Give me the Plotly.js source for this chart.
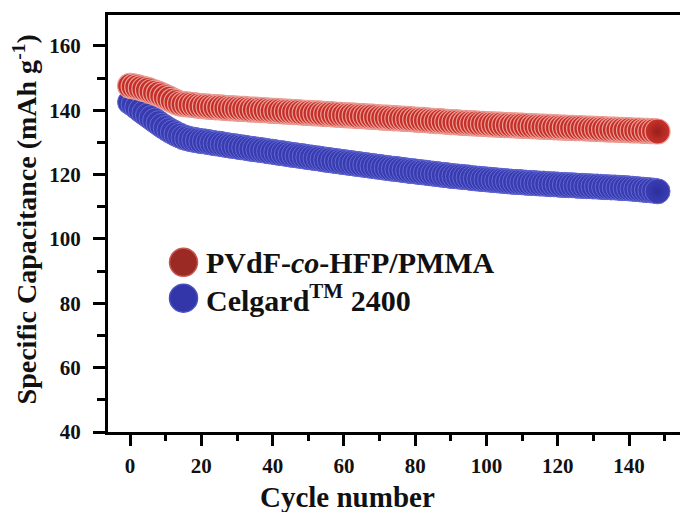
<!DOCTYPE html>
<html>
<head>
<meta charset="utf-8">
<script src="https://cdn.plot.ly/plotly-3.0.1.min.js"></script>
<style>html,body{margin:0;padding:0;background:#fff;}#chart{width:680px;height:512px;}</style>
</head>
<body>
<div id="chart"></div>
<script>
// Series names
const seriesNames = ["PVdF-<i>co</i>-HFP/PMMA", "Celgard<sup>TM</sup> 2400"];

// Specific capacitance (mAh g-1), one value per cycle starting at cycle 0
const pvdfValues = [
  147.6,147.4,147.2,146.9,146.6,146.3,145.9,145.5,145.1,144.6,144.1,143.6,143.0,142.5,142.1,
  141.9,141.8,141.7,141.6,141.4,141.3,141.2,141.1,141.0,140.9,140.9,140.8,140.7,140.6,140.6,
  140.5,140.4,140.4,140.3,140.2,140.2,140.1,140.0,140.0,139.9,139.8,139.8,139.7,139.6,139.6,
  139.5,139.4,139.4,139.3,139.2,139.2,139.1,139.0,139.0,138.9,138.8,138.8,138.7,138.6,138.6,
  138.5,138.4,138.4,138.3,138.2,138.2,138.1,138.0,138.0,137.9,137.8,137.7,137.7,137.6,137.5,
  137.5,137.4,137.3,137.3,137.2,137.1,137.0,137.0,136.9,136.8,136.7,136.6,136.6,136.5,136.4,
  136.3,136.3,136.2,136.1,136.1,136.0,135.9,135.9,135.8,135.8,135.7,135.6,135.6,135.5,135.5,
  135.4,135.4,135.3,135.3,135.2,135.2,135.1,135.1,135.0,135.0,134.9,134.9,134.8,134.8,134.7,
  134.7,134.6,134.6,134.5,134.5,134.4,134.4,134.4,134.3,134.3,134.2,134.2,134.1,134.1,134.0,
  134.0,134.0,133.9,133.9,133.8,133.8,133.7,133.7,133.7,133.6,133.6,133.5,133.5,133.4
];
const celgardValues = [
  142.5,141.8,140.9,140.0,139.2,138.4,137.6,136.8,136.0,135.2,134.5,133.8,133.2,132.6,132.1,
  131.6,131.3,131.0,130.8,130.6,130.4,130.3,130.1,129.9,129.7,129.6,129.4,129.2,129.0,128.9,
  128.7,128.5,128.4,128.2,128.0,127.9,127.7,127.6,127.4,127.2,127.1,126.9,126.7,126.6,126.4,
  126.2,126.1,125.9,125.8,125.6,125.4,125.3,125.1,125.0,124.8,124.6,124.5,124.3,124.2,124.0,
  123.9,123.7,123.6,123.4,123.3,123.1,123.0,122.8,122.7,122.5,122.4,122.2,122.1,121.9,121.8,
  121.7,121.5,121.4,121.2,121.1,121.0,120.8,120.7,120.6,120.4,120.3,120.2,120.0,119.9,119.8,
  119.6,119.5,119.4,119.3,119.2,119.1,118.9,118.8,118.7,118.6,118.5,118.4,118.3,118.2,118.1,
  118.0,117.9,117.8,117.7,117.7,117.6,117.5,117.4,117.4,117.3,117.2,117.2,117.1,117.0,117.0,
  116.9,116.8,116.8,116.7,116.7,116.6,116.5,116.5,116.4,116.4,116.3,116.3,116.2,116.1,116.1,
  116.0,116.0,115.9,115.8,115.8,115.7,115.6,115.5,115.4,115.3,115.2,115.1,115.0,114.8
];

// Cycle numbers (0, 1, 2, ...)
const cycles = pvdfValues.map((_, i) => i);

// Tick values
const xTicks = [0, 20, 40, 60, 80, 100, 120, 140];
const yTicks = [40, 60, 80, 100, 120, 140, 160];

const serif = "Liberation Serif, Times New Roman, serif";
const red = "#cc322b", redDark = "#96201b", redRim = "#eb9f97";
const blue = "#3a3eb4", blueDark = "#2c2f9c", blueRim = "#6267d2";

const traces = [
  {
    x: cycles, y: celgardValues, type: "scatter", mode: "markers", name: seriesNames[1],
    showlegend: false,
    marker: { size: 25, color: blue, gradient: { type: "radial", color: blueDark },
              line: { color: blueRim, width: 1 } }
  },
  {
    x: cycles, y: pvdfValues, type: "scatter", mode: "markers", name: seriesNames[0],
    showlegend: false,
    marker: { size: 25, color: red, gradient: { type: "radial", color: redDark },
              line: { color: redRim, width: 1.2 } }
  }
];

const axisCommon = {
  showline: true, linecolor: "#000", linewidth: 3,
  ticks: "outside", tickcolor: "#000", tickwidth: 3,
  showgrid: false, zeroline: false,
  tickfont: { family: serif, size: 21, color: "#111", weight: "bold" }
};

const layout = {
  width: 680, height: 512,
  margin: { l: 108, r: 0, t: 15, b: 80 },
  paper_bgcolor: "#fff", plot_bgcolor: "#fff",
  showlegend: false,
  xaxis: Object.assign({}, axisCommon, {
    range: [-6.2, 154.3], tickvals: xTicks, ticktext: xTicks.map(String),
    ticklen: 11, mirror: true, ticklabelstandoff: 2,
    minor: { dtick: 10, tick0: 0, ticks: "outside", ticklen: 6, tickwidth: 3, tickcolor: "#000" }
  }),
  yaxis: Object.assign({}, axisCommon, {
    range: [40, 169.6], tickvals: yTicks, ticktext: yTicks.map(String),
    ticklen: 12, mirror: false, ticklabelstandoff: 8,
    minor: { dtick: 10, tick0: 0, ticks: "outside", ticklen: 8, tickwidth: 3, tickcolor: "#000" }
  }),
  shapes: [
    { type: "circle", xref: "paper", yref: "paper", xsizemode: "pixel", ysizemode: "pixel",
      xanchor: 0.132, yanchor: 0.407, x0: -14, x1: 14, y0: -14, y1: 14,
      fillcolor: "#9c2a24", line: { color: "#c8564e", width: 1.5 } },
    { type: "circle", xref: "paper", yref: "paper", xsizemode: "pixel", ysizemode: "pixel",
      xanchor: 0.132, yanchor: 0.321, x0: -14, x1: 14, y0: -14, y1: 14,
      fillcolor: "#3236a8", line: { color: "#4a4fc0", width: 1.5 } }
  ],
  annotations: [
    { xref: "paper", yref: "paper", x: 0.167, y: 0.407, xanchor: "left", yanchor: "middle",
      text: "<b>" + seriesNames[0] + "</b>", showarrow: false,
      font: { family: serif, size: 30, color: "#111" } },
    { xref: "paper", yref: "paper", x: 0.167, y: 0.321, xanchor: "left", yanchor: "middle",
      text: "<b>" + seriesNames[1] + "</b>", showarrow: false,
      font: { family: serif, size: 30, color: "#111" } },
    { xref: "paper", yref: "paper", x: 0.418, y: -0.156, xanchor: "center", yanchor: "middle",
      text: "<b>Cycle number</b>", showarrow: false,
      font: { family: serif, size: 29, color: "#111" } },
    { xref: "paper", yref: "paper", x: -0.145, y: 0.51, xanchor: "center", yanchor: "middle",
      textangle: -90, text: "<b>Specific Capacitance (mAh g<sup>-1</sup>)</b>", showarrow: false,
      font: { family: serif, size: 28, color: "#111" } }
  ]
};

Plotly.newPlot("chart", traces, layout, { displayModeBar: false, staticPlot: true });
</script>
</body>
</html>
